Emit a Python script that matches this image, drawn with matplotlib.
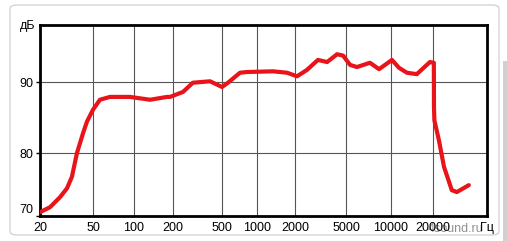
import numpy as np
import matplotlib
matplotlib.use('Agg')
import matplotlib.pyplot as plt
from matplotlib.patches import FancyBboxPatch, Rectangle

# частотная характеристика (Гц, дБ)
freq = [20, 23.8, 28.3, 31.9, 34.7, 37.9, 42.1, 45, 50, 56.2, 66.6, 93.6,
        133, 180, 190, 241, 290, 400, 500, 563, 714, 820, 1340, 1730,
        2075, 2480, 3020, 3560, 4260, 4750, 5320, 5920, 7230, 8320,
        10160, 11400, 13000, 15300, 19000, 20300, 20350, 20500, 22200,
        24300, 27900, 30500, 37700]
level = [70.6, 71.4, 73.0, 74.4, 76.2, 80.0, 82.8, 84.4, 86.1, 87.5, 87.9, 87.9,
         87.5, 87.9, 87.9, 88.6, 89.9, 90.1, 89.3, 89.9, 91.3, 91.4, 91.5, 91.3,
         90.8, 91.7, 93.1, 92.8, 93.9, 93.7, 92.4, 92.1, 92.7, 91.8,
         93.1, 92.0, 91.3, 91.1, 92.8, 92.7, 86.5, 84.6, 81.8,
         77.8, 74.1, 73.8, 74.9]

x_ticks = [20, 50, 100, 200, 500, 1000, 2000, 5000, 10000, 20000]
x_labels = ['20', '50', '100', '200', '500', '1000', '2000', '5000', '10000', '20000']
y_ticks = [70, 80, 90]
y_labels = ['70', '80', '90']

# сетка на исходнике не совсем логарифмическая - подгоняем шкалу по пикселям
x_knots = np.log10(x_ticks + [52000])
x_px = np.array([40, 93, 134, 173, 222, 257, 295, 346, 391, 433, 487], dtype=float)
y_knots = np.array([70, 80, 90, 98], dtype=float)
y_px = np.array([0, 63, 134, 191], dtype=float)


def fx(v):
    v = np.clip(np.asarray(v, dtype=float), 1e-3, None)
    return np.interp(np.log10(v), x_knots, x_px)


def ix(p):
    return 10 ** np.interp(np.asarray(p, dtype=float), x_px, x_knots)


def fy(v):
    return np.interp(np.asarray(v, dtype=float), y_knots, y_px)


def iy(p):
    return np.interp(np.asarray(p, dtype=float), y_px, y_knots)


plt.rcParams['font.family'] = ['Liberation Sans', 'DejaVu Sans']

W, H = 507, 241
fig = plt.figure(figsize=(W / 100, H / 100), dpi=100)
fig.patch.set_facecolor('white')

# карточка с рамкой (под осями)
card = FancyBboxPatch((10 / W, 6 / H), 489 / W, 230 / H,
                      boxstyle='round,pad=0,rounding_size=0.015',
                      transform=fig.transFigure, facecolor='white',
                      edgecolor='#d4d4d4', linewidth=1.0, zorder=-2)
fig.patches.append(card)
fig.patches.append(Rectangle((503 / W, 0), 4 / W, 180 / H, transform=fig.transFigure,
                             facecolor='#cfcfcf', edgecolor='none', zorder=-2))

ax = fig.add_axes([40 / W, 25 / H, 447 / W, 191 / H])
ax.set_xscale('function', functions=(fx, ix))
ax.set_yscale('function', functions=(fy, iy))
ax.set_xlim(20, 52000)
ax.set_ylim(70, 98)
ax.patch.set_alpha(0)

ax.plot(freq, level, color='#e8141a', linewidth=3.0, solid_joinstyle='round',
        solid_capstyle='round', zorder=3)

ax.set_xticks(x_ticks)
ax.set_xticklabels(x_labels)
ax.set_xticks([], minor=True)
ax.set_yticks(y_ticks)
ax.set_yticklabels(y_labels)
ax.set_yticks([], minor=True)
ax.tick_params(axis='x', length=0, pad=4, labelsize=9, colors='black')
ax.tick_params(axis='y', length=3, width=1, pad=2, labelsize=9, colors='black')
ax.get_yticklabels()[0].set_verticalalignment('bottom')

ax.grid(True, color='#555555', linewidth=0.8)
for side in ['left', 'bottom', 'top', 'right']:
    ax.spines[side].set_linewidth(2.0)
    ax.spines[side].set_color('black')

fig.text(35 / W, 1 - 26 / H, 'дБ', ha='right', va='center', fontsize=9)
fig.text(487 / W, 1 - 228 / H, 'Гц', ha='center', va='center', fontsize=9)
fig.text(428 / W, 1 - 229 / H, '4sound.ru', ha='left', va='center', fontsize=9,
         color='#222222', alpha=0.5)

fig.savefig('out.png', dpi=100)
